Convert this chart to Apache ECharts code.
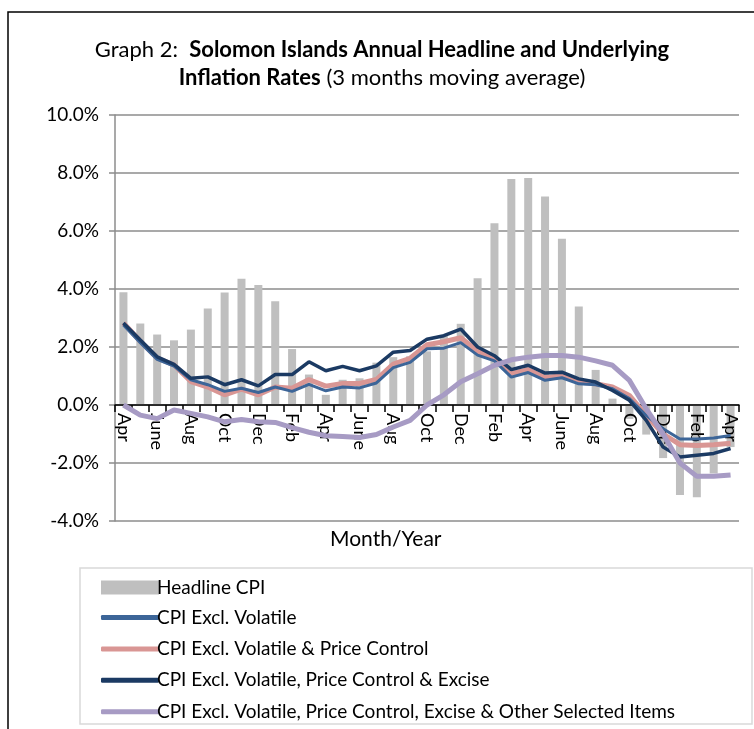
<!DOCTYPE html>
<html>
<head>
<meta charset="utf-8">
<script src="https://cdn.jsdelivr.net/npm/echarts@6/dist/echarts.min.js"></script>
<style>
html,body{margin:0;padding:0;background:#fff;}
#chart{width:754px;height:729px;}
</style>
</head>
<body>
<div id="chart"></div>
<script>
const months = ['Apr','May','June','Jul','Aug','Sep','Oct','Nov','Dec','Jan','Feb','Mar',
  'Apr','May','June','Jul','Aug','Sep','Oct','Nov','Dec','Jan','Feb','Mar',
  'Apr','May','June','Jul','Aug','Sep','Oct','Nov','Dec','Jan','Feb','Mar','Apr'];
const yTicks = [-4, -2, 0, 2, 4, 6, 8, 10];

const headlineCPI = [3.89,2.81,2.43,2.23,2.60,3.33,3.88,4.35,4.14,3.58,1.93,1.05,
  0.35,0.87,0.92,1.46,1.65,1.68,1.85,2.38,2.80,4.37,6.27,7.79,
  7.83,7.19,5.73,3.40,1.21,0.22,-0.48,-1.02,-1.83,-3.10,-3.18,-2.36,-1.45];
const exclVolatile = [2.76,2.15,1.57,1.34,0.87,0.70,0.47,0.58,0.43,0.62,0.47,0.71,
  0.49,0.62,0.59,0.76,1.29,1.47,1.94,1.96,2.15,1.72,1.52,0.96,
  1.12,0.85,0.94,0.73,0.70,0.56,0.22,-0.36,-0.82,-1.17,-1.17,-1.14,-1.05];
const exclVolPriceCtrl = [2.83,2.20,1.62,1.38,0.81,0.62,0.35,0.55,0.35,0.62,0.58,0.88,
  0.65,0.74,0.74,0.88,1.41,1.61,2.08,2.18,2.32,1.86,1.60,1.08,
  1.22,0.94,1.02,0.79,0.73,0.62,0.33,-0.36,-1.00,-1.37,-1.40,-1.37,-1.32];
const exclVolPriceCtrlExcise = [2.83,2.24,1.66,1.40,0.92,0.97,0.70,0.87,0.66,1.05,1.05,1.49,
  1.18,1.33,1.18,1.35,1.82,1.88,2.27,2.39,2.62,2.00,1.70,1.22,
  1.37,1.10,1.13,0.90,0.79,0.50,0.16,-0.53,-1.45,-1.79,-1.73,-1.67,-1.50];
const exclAllSelected = [0.00,-0.35,-0.47,-0.17,-0.29,-0.41,-0.58,-0.50,-0.58,-0.60,-0.78,-0.94,
  -1.06,-1.09,-1.12,-1.02,-0.76,-0.53,0.00,0.35,0.80,1.08,1.37,1.56,
  1.65,1.71,1.71,1.65,1.52,1.37,0.85,-0.13,-1.00,-2.00,-2.46,-2.46,-2.41];

const names = ['Headline CPI','CPI Excl. Volatile','CPI Excl. Volatile & Price Control',
  'CPI Excl. Volatile, Price Control & Excise','CPI Excl. Volatile, Price Control, Excise & Other Selected Items'];

const FONT = 'Lato';
const Y_MIN = -4, Y_MAX = 10;
const GRID = {left:115, right:15, top:115, bottom:208};
const plotH = 729 - GRID.top - GRID.bottom;
// offset to place the category axis on the zero line
const zeroOffset = -plotH * (0 - Y_MIN) / (Y_MAX - Y_MIN);

const chart = echarts.init(document.getElementById('chart'));
chart.setOption({
  animation:false,
  backgroundColor:'#fff',
  textStyle:{fontFamily:FONT},
  graphic:[
    {type:'rect', shape:{x:8,y:12,width:760,height:740}, style:{fill:'none',stroke:'#000',lineWidth:1.5}, silent:true, z:-1},
    {type:'rect', shape:{x:80,y:568,width:672,height:156}, style:{fill:'none',stroke:'#d9d9d9',lineWidth:1.5}, silent:true, z:-1},
    {type:'text', left:330, top:529, style:{text:'Month/Year', fontFamily:FONT, fontSize:21, fill:'#000'}, silent:true}
  ],
  title:{
    left:377, top:31, textAlign:'center',
    text:'{n|Graph 2:  }{b|Solomon Islands Annual Headline and Underlying}\n{b|Inflation Rates}{n| (3 months moving average)}',
    textStyle:{
      fontWeight:'normal',
      rich:{
        n:{fontFamily:FONT,fontSize:22,fontWeight:'normal',color:'#000',lineHeight:28},
        b:{fontFamily:FONT,fontSize:22,fontWeight:'bold',color:'#000',lineHeight:28}
      }
    }
  },
  legend:[
    {data:[names[0]], orient:'vertical', left:96, top:573, itemWidth:58, itemHeight:14, itemGap:11,
     icon:'rect', textStyle:{fontFamily:FONT,fontSize:19,color:'#000',padding:[0,0,0,-7]}},
    {data:names.slice(1), orient:'vertical', left:96, top:603, itemWidth:58, itemHeight:5, itemGap:12.4,
     icon:'roundRect', textStyle:{fontFamily:FONT,fontSize:19,color:'#000',padding:[0,0,0,-7]}}
  ],
  grid:{left:GRID.left, right:GRID.right, top:GRID.top, bottom:GRID.bottom, containLabel:false},
  xAxis:{
    type:'category', data:months, boundaryGap:true, offset:zeroOffset, z:2,
    axisLine:{onZero:false, lineStyle:{color:'#000',width:1.5}},
    axisTick:{show:true, interval:0, length:7, inside:false, lineStyle:{color:'#000',width:1.5}},
    axisLabel:{interval:1, rotate:-90, margin:8, fontFamily:FONT, fontSize:18, color:'#000'},
    splitLine:{show:false}
  },
  yAxis:{
    type:'value', min:Y_MIN, max:Y_MAX, interval:2,
    axisLine:{show:true, lineStyle:{color:'#8c8c8c',width:1.5}},
    axisTick:{show:true, length:6, lineStyle:{color:'#8c8c8c',width:1.5}},
    axisLabel:{formatter:v=>v.toFixed(1)+'%', fontFamily:FONT, fontSize:19, color:'#000', margin:16},
    splitLine:{show:true, lineStyle:{color:'#8c8c8c',width:1.5}}
  },
  series:[
    {name:names[0], type:'bar', data:headlineCPI, barWidth:8, itemStyle:{color:'#bfbfbf'}, z:1},
    {name:names[1], type:'line', data:exclVolatile, symbol:'none', lineStyle:{color:'#3c6598',width:3}, itemStyle:{color:'#3c6598'}, z:4},
    {name:names[2], type:'line', data:exclVolPriceCtrl, symbol:'none', lineStyle:{color:'#d99694',width:5}, itemStyle:{color:'#d99694'}, z:3},
    {name:names[3], type:'line', data:exclVolPriceCtrlExcise, symbol:'none', lineStyle:{color:'#1b3a63',width:3.5}, itemStyle:{color:'#1b3a63'}, z:5},
    {name:names[4], type:'line', data:exclAllSelected, symbol:'none', lineStyle:{color:'#a79bc4',width:5}, itemStyle:{color:'#a79bc4'}, z:6}
  ]
});
</script>
</body>
</html>
